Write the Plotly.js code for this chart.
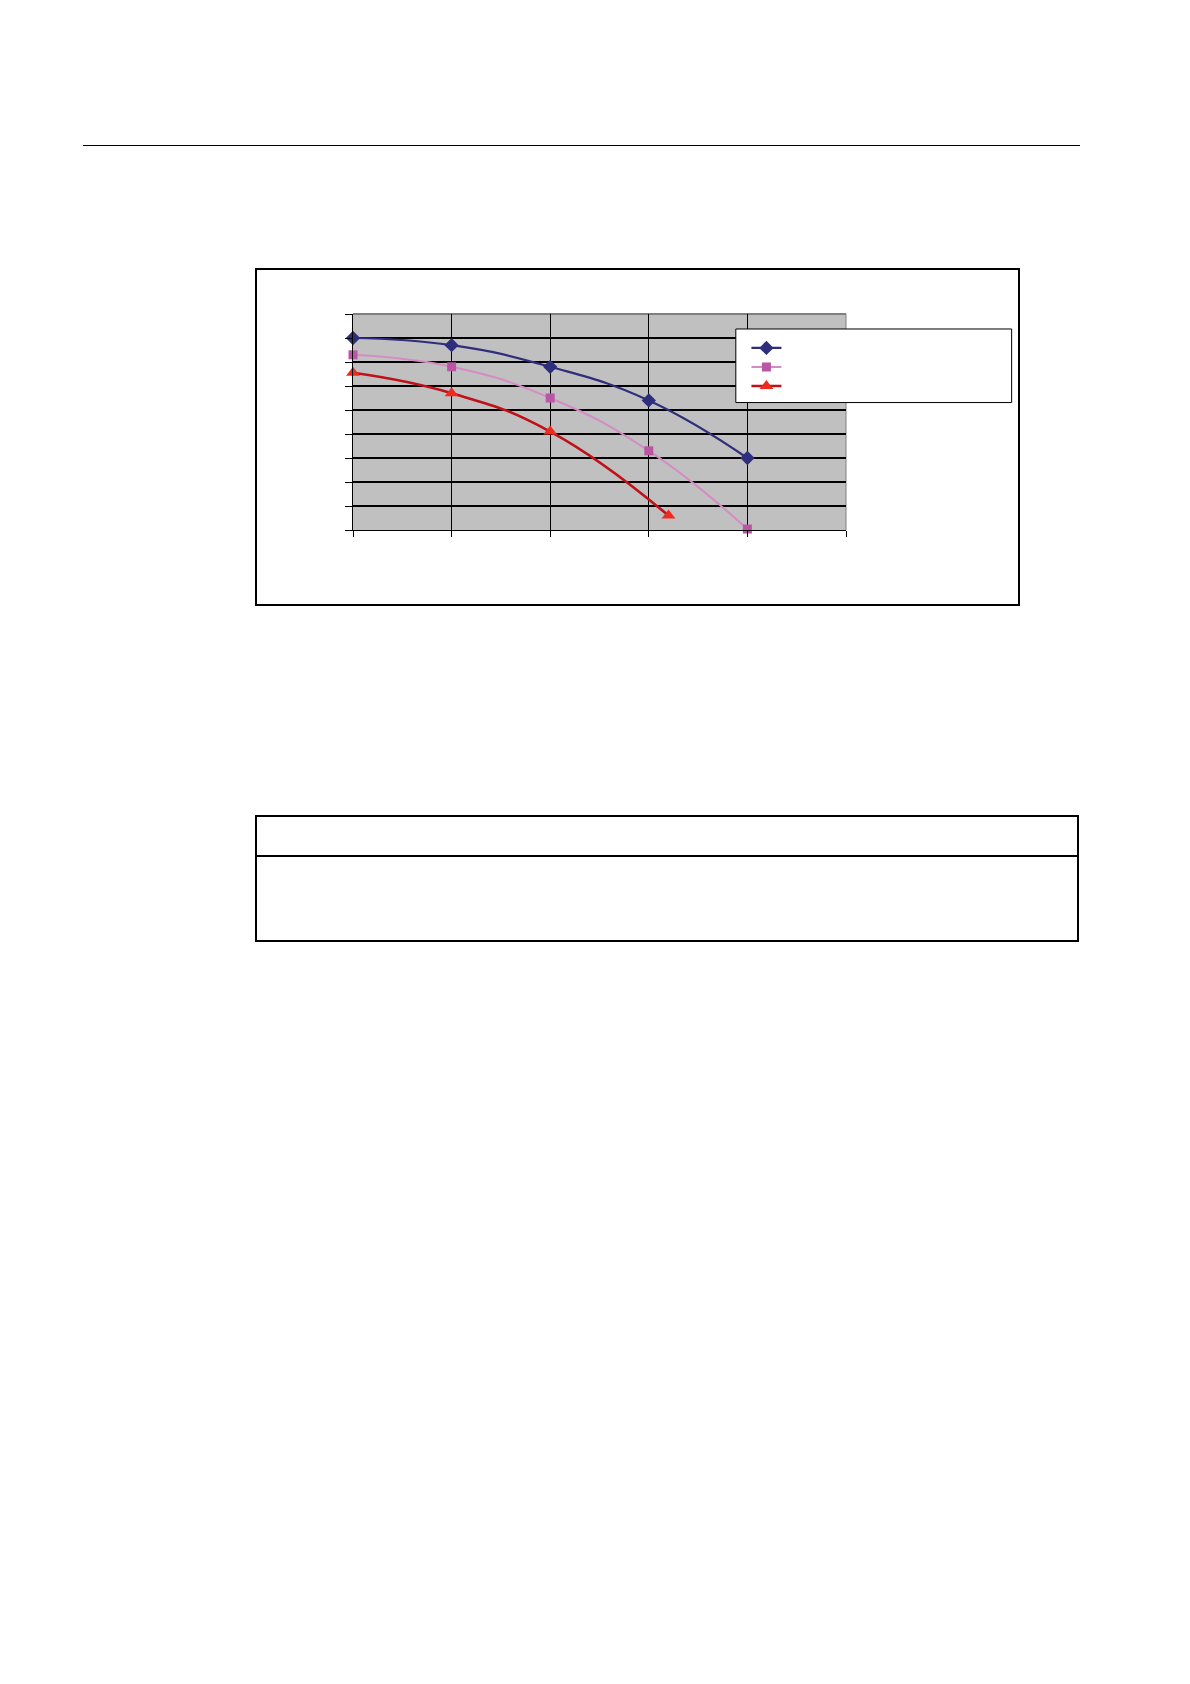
<!DOCTYPE html>
<html>
<head>
<meta charset="utf-8">
<script src="https://cdn.plot.ly/plotly-3.0.1.min.js"></script>
<style>
  body { margin: 0; background: #fff; width: 1190px; height: 1684px; position: relative; font-family: "Liberation Sans", Arial, sans-serif; }
  #rule { position: absolute; left: 83px; top: 145px; width: 997px; height: 1px; background: #000; }
  #frame { position: absolute; left: 255px; top: 268px; width: 765px; height: 338px; border: 2px solid #000; box-sizing: border-box; }
  #graph { position: absolute; left: 0; top: 0; width: 761px; height: 334px; }
  #table { position: absolute; left: 255px; top: 815px; width: 824px; height: 127px; border: 2px solid #000; box-sizing: border-box; }
  #thead { position: absolute; left: 0; top: 0; right: 0; height: 38px; border-bottom: 2px solid #000; }
</style>
</head>
<body>
<div id="rule"></div>
<div id="frame"><div id="graph"></div></div>
<div id="table"><div id="thead"></div></div>
<script>
// x positions of the points (labels are blank in the source)
var xTicks = [0, 10, 20, 30, 40, 50];
var yTicks = [0, 10, 20, 30, 40, 50, 60, 70, 80, 90];

var xA = [0, 10, 20, 30, 40];
var serieA = [80, 77, 68, 54, 30];
var serieB = [73, 68, 55, 33, 0.4];
var xC = [0, 10, 20, 32];
var serieC = [65.5, 57, 41, 6];

var navy = '#2E2E7C';
var pinkLine = '#D58BC4';
var pinkMark = '#BB55A6';
var redLine = '#C0101A';
var redMark = '#EE2B1E';

function makeTrace(x, y, lineColor, lineWidth, markColor, symbol, size) {
    return {
        x: x,
        y: y,
        name: ' ',
        mode: 'lines+markers',
        type: 'scatter',
        cliponaxis: false,
        line: { color: lineColor, width: lineWidth, shape: 'spline', smoothing: 1.3 },
        marker: { color: markColor, symbol: symbol, size: size }
    };
}

var data = [
    makeTrace(xA, serieA, navy, 2.2, navy, 'diamond', 11),
    makeTrace(xA, serieB, pinkLine, 2, pinkMark, 'square', 9),
    makeTrace(xC, serieC, redLine, 2.6, redMark, 'triangle-up', 12)
];

var layout = {
    width: 761,
    height: 334,
    margin: { l: 96, r: 172, t: 44, b: 74, pad: 0 },
    paper_bgcolor: '#ffffff',
    plot_bgcolor: '#C0C0C0',
    showlegend: true,
    legend: {
        x: 0.798, y: 0.91, xanchor: 'left', yanchor: 'top',
        bgcolor: 'rgba(0,0,0,0)', borderwidth: 0,
        font: { size: 11, color: '#000' },
        tracegroupgap: 0
    },
    xaxis: {
        range: [0, 50],
        tickvals: xTicks,
        showticklabels: false,
        ticks: 'outside', ticklen: 6, tickcolor: '#000', tickwidth: 1,
        showgrid: true, gridcolor: '#000', gridwidth: 1.2,
        zeroline: false,
        showline: true, linecolor: '#000', linewidth: 1.2
    },
    yaxis: {
        range: [0, 90],
        tickvals: yTicks,
        showticklabels: false,
        ticks: 'outside', ticklen: 7, tickcolor: '#000', tickwidth: 1,
        showgrid: true, gridcolor: '#000', gridwidth: 1.2,
        zeroline: false,
        showline: true, linecolor: '#000', linewidth: 1.2
    },
    shapes: [
        // plot area border, top and right sides
        { type: 'line', xref: 'paper', yref: 'paper', x0: 0, x1: 1, y0: 1, y1: 1, line: { color: '#808080', width: 2 }, layer: 'below' },
        { type: 'line', xref: 'paper', yref: 'paper', x0: 1, x1: 1, y0: 0, y1: 1, line: { color: '#808080', width: 1 }, layer: 'below' },
        // legend box
        { type: 'rect', xref: 'paper', yref: 'paper', x0: 0.7765, x1: 1.336, y0: 0.59, y1: 0.9306,
          fillcolor: '#ffffff', line: { color: '#000', width: 1 }, layer: 'above' }
    ]
};

Plotly.newPlot('graph', data, layout, { staticPlot: true, displayModeBar: false });
</script>
</body>
</html>
